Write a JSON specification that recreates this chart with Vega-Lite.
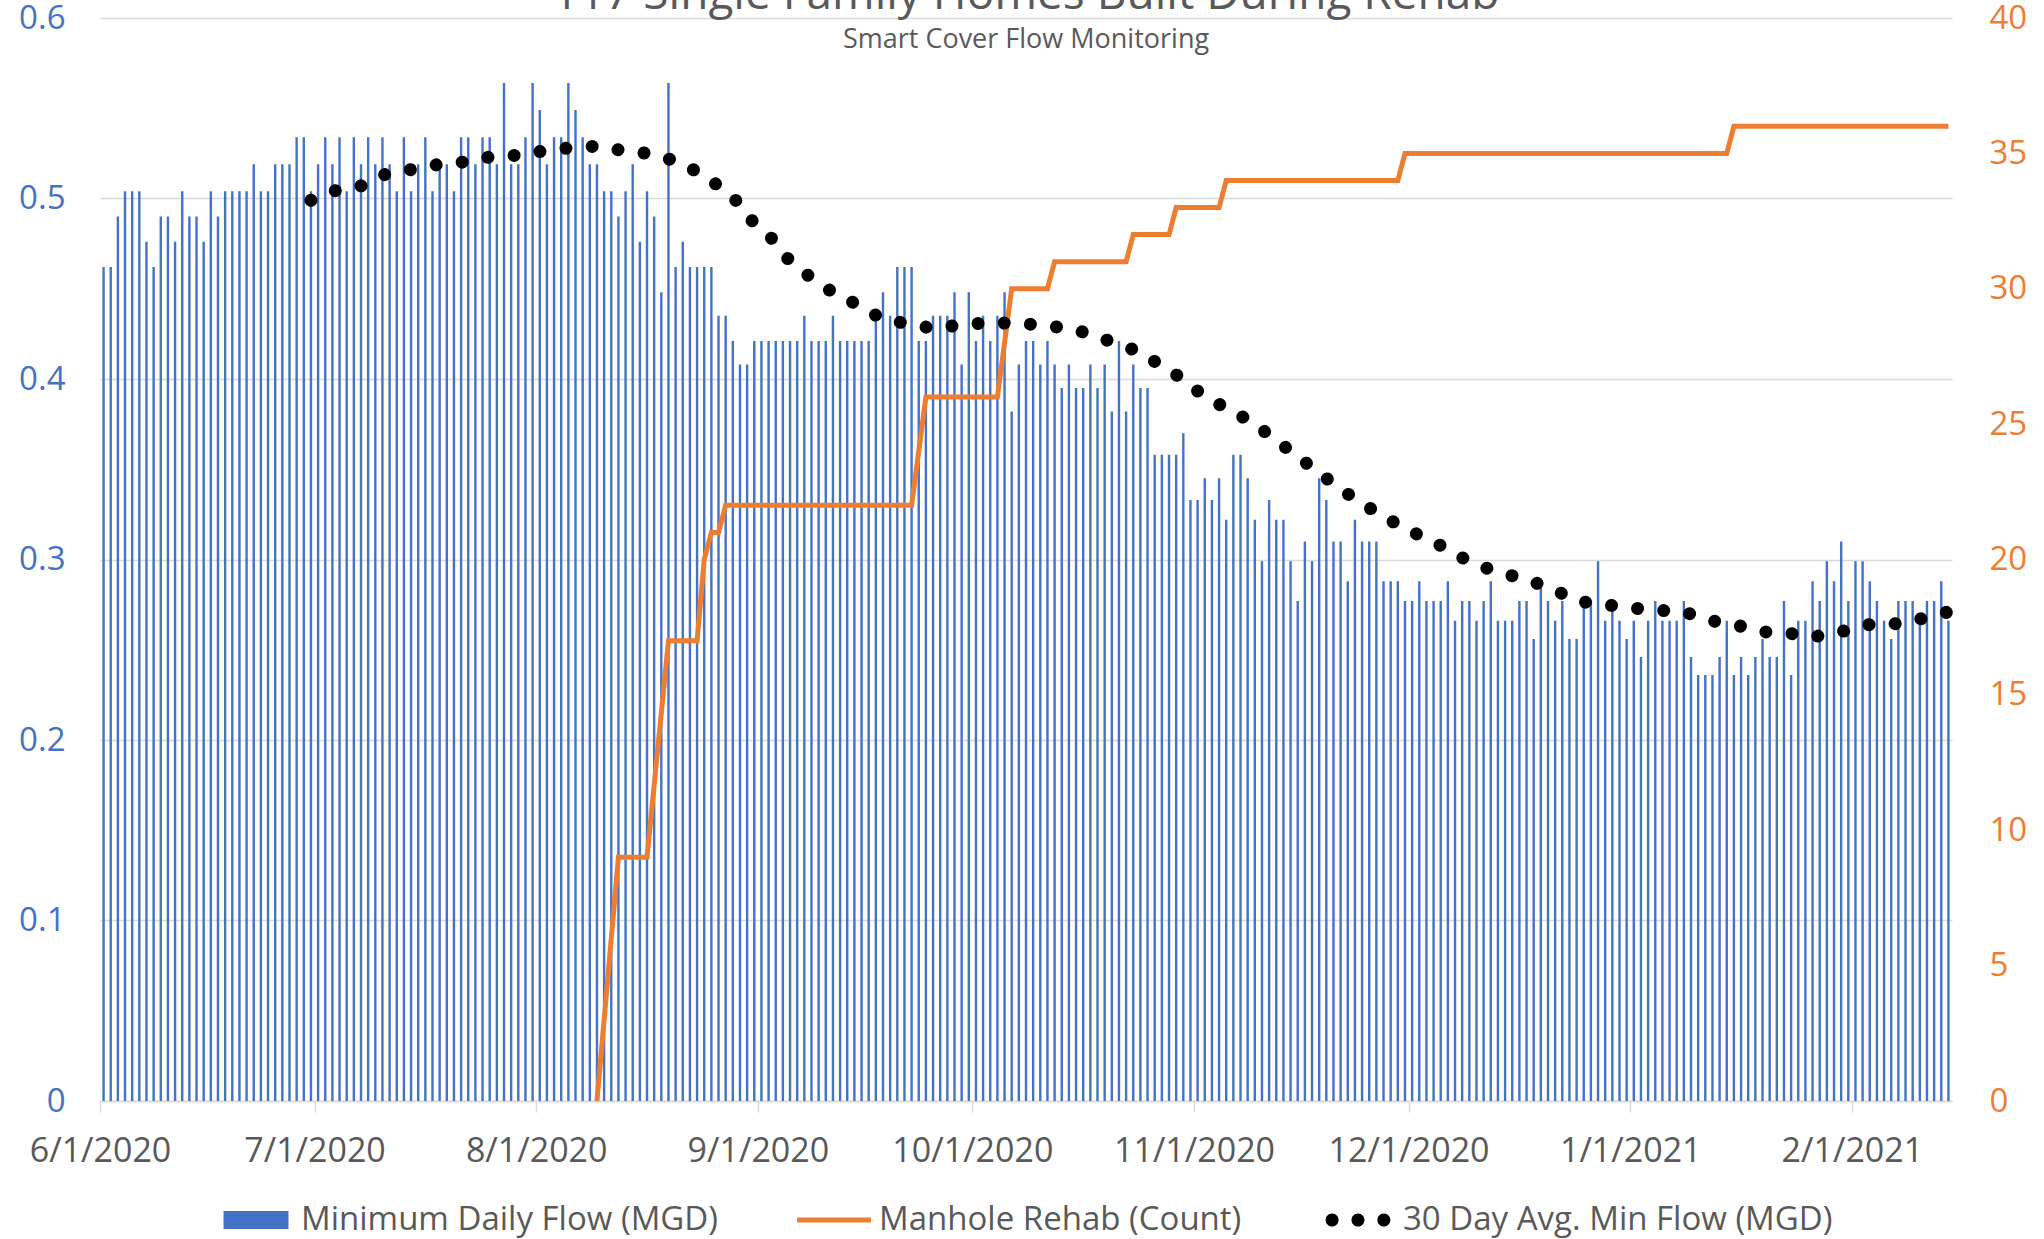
{
  "$schema": "https://vega.github.io/schema/vega-lite/v6.json",
  "autosize": {"type": "none"},
  "width": 1852,
  "height": 1083,
  "padding": {"left": 100, "top": 18, "right": 92, "bottom": 138},
  "background": "white",
  "title": {
    "text": "117 Single Family Homes Built During Rehab",
    "subtitle": "Smart Cover Flow Monitoring",
    "anchor": "middle",
    "offset": -52,
    "font": "Open Sans",
    "fontSize": 46,
    "fontWeight": "normal",
    "color": "#595959",
    "subtitleFont": "Open Sans",
    "subtitleFontSize": 27,
    "subtitleColor": "#595959",
    "subtitlePadding": 8
  },
  "config": {
    "view": {"stroke": null},
    "axis": {"labelFont": "Open Sans", "titleFont": "Open Sans"},
    "legend": {"labelFont": "Open Sans", "layout": {"anchor": "middle", "bottom": {"anchor": "middle"}}}
  },
  "datasets": {
    "flow": [
      {"date":"2020-06-01","flow":0.462},{"date":"2020-06-02","flow":0.462},{"date":"2020-06-03","flow":0.490},{"date":"2020-06-04","flow":0.504},{"date":"2020-06-05","flow":0.504},{"date":"2020-06-06","flow":0.504},{"date":"2020-06-07","flow":0.476},{"date":"2020-06-08","flow":0.462},{"date":"2020-06-09","flow":0.490},{"date":"2020-06-10","flow":0.490},
      {"date":"2020-06-11","flow":0.476},{"date":"2020-06-12","flow":0.504},{"date":"2020-06-13","flow":0.490},{"date":"2020-06-14","flow":0.490},{"date":"2020-06-15","flow":0.476},{"date":"2020-06-16","flow":0.504},{"date":"2020-06-17","flow":0.490},{"date":"2020-06-18","flow":0.504},{"date":"2020-06-19","flow":0.504},{"date":"2020-06-20","flow":0.504},
      {"date":"2020-06-21","flow":0.504},{"date":"2020-06-22","flow":0.519},{"date":"2020-06-23","flow":0.504},{"date":"2020-06-24","flow":0.504},{"date":"2020-06-25","flow":0.519},{"date":"2020-06-26","flow":0.519},{"date":"2020-06-27","flow":0.519},{"date":"2020-06-28","flow":0.534},{"date":"2020-06-29","flow":0.534},{"date":"2020-06-30","flow":0.504},
      {"date":"2020-07-01","flow":0.519},{"date":"2020-07-02","flow":0.534},{"date":"2020-07-03","flow":0.519},{"date":"2020-07-04","flow":0.534},{"date":"2020-07-05","flow":0.504},{"date":"2020-07-06","flow":0.534},{"date":"2020-07-07","flow":0.519},{"date":"2020-07-08","flow":0.534},{"date":"2020-07-09","flow":0.519},{"date":"2020-07-10","flow":0.534},
      {"date":"2020-07-11","flow":0.519},{"date":"2020-07-12","flow":0.504},{"date":"2020-07-13","flow":0.534},{"date":"2020-07-14","flow":0.504},{"date":"2020-07-15","flow":0.519},{"date":"2020-07-16","flow":0.534},{"date":"2020-07-17","flow":0.504},{"date":"2020-07-18","flow":0.519},{"date":"2020-07-19","flow":0.519},{"date":"2020-07-20","flow":0.504},
      {"date":"2020-07-21","flow":0.534},{"date":"2020-07-22","flow":0.534},{"date":"2020-07-23","flow":0.519},{"date":"2020-07-24","flow":0.534},{"date":"2020-07-25","flow":0.534},{"date":"2020-07-26","flow":0.519},{"date":"2020-07-27","flow":0.564},{"date":"2020-07-28","flow":0.519},{"date":"2020-07-29","flow":0.519},{"date":"2020-07-30","flow":0.534},
      {"date":"2020-07-31","flow":0.564},{"date":"2020-08-01","flow":0.549},{"date":"2020-08-02","flow":0.519},{"date":"2020-08-03","flow":0.534},{"date":"2020-08-04","flow":0.534},{"date":"2020-08-05","flow":0.564},{"date":"2020-08-06","flow":0.549},{"date":"2020-08-07","flow":0.534},{"date":"2020-08-08","flow":0.519},{"date":"2020-08-09","flow":0.519},
      {"date":"2020-08-10","flow":0.504},{"date":"2020-08-11","flow":0.504},{"date":"2020-08-12","flow":0.490},{"date":"2020-08-13","flow":0.504},{"date":"2020-08-14","flow":0.519},{"date":"2020-08-15","flow":0.476},{"date":"2020-08-16","flow":0.504},{"date":"2020-08-17","flow":0.490},{"date":"2020-08-18","flow":0.448},{"date":"2020-08-19","flow":0.564},
      {"date":"2020-08-20","flow":0.462},{"date":"2020-08-21","flow":0.476},{"date":"2020-08-22","flow":0.462},{"date":"2020-08-23","flow":0.462},{"date":"2020-08-24","flow":0.462},{"date":"2020-08-25","flow":0.462},{"date":"2020-08-26","flow":0.435},{"date":"2020-08-27","flow":0.435},{"date":"2020-08-28","flow":0.421},{"date":"2020-08-29","flow":0.408},
      {"date":"2020-08-30","flow":0.408},{"date":"2020-08-31","flow":0.421},{"date":"2020-09-01","flow":0.421},{"date":"2020-09-02","flow":0.421},{"date":"2020-09-03","flow":0.421},{"date":"2020-09-04","flow":0.421},{"date":"2020-09-05","flow":0.421},{"date":"2020-09-06","flow":0.421},{"date":"2020-09-07","flow":0.435},{"date":"2020-09-08","flow":0.421},
      {"date":"2020-09-09","flow":0.421},{"date":"2020-09-10","flow":0.421},{"date":"2020-09-11","flow":0.435},{"date":"2020-09-12","flow":0.421},{"date":"2020-09-13","flow":0.421},{"date":"2020-09-14","flow":0.421},{"date":"2020-09-15","flow":0.421},{"date":"2020-09-16","flow":0.421},{"date":"2020-09-17","flow":0.435},{"date":"2020-09-18","flow":0.448},
      {"date":"2020-09-19","flow":0.435},{"date":"2020-09-20","flow":0.462},{"date":"2020-09-21","flow":0.462},{"date":"2020-09-22","flow":0.462},{"date":"2020-09-23","flow":0.421},{"date":"2020-09-24","flow":0.421},{"date":"2020-09-25","flow":0.435},{"date":"2020-09-26","flow":0.435},{"date":"2020-09-27","flow":0.435},{"date":"2020-09-28","flow":0.448},
      {"date":"2020-09-29","flow":0.408},{"date":"2020-09-30","flow":0.448},{"date":"2020-10-01","flow":0.421},{"date":"2020-10-02","flow":0.435},{"date":"2020-10-03","flow":0.421},{"date":"2020-10-04","flow":0.435},{"date":"2020-10-05","flow":0.448},{"date":"2020-10-06","flow":0.382},{"date":"2020-10-07","flow":0.408},{"date":"2020-10-08","flow":0.421},
      {"date":"2020-10-09","flow":0.421},{"date":"2020-10-10","flow":0.408},{"date":"2020-10-11","flow":0.421},{"date":"2020-10-12","flow":0.408},{"date":"2020-10-13","flow":0.395},{"date":"2020-10-14","flow":0.408},{"date":"2020-10-15","flow":0.395},{"date":"2020-10-16","flow":0.395},{"date":"2020-10-17","flow":0.408},{"date":"2020-10-18","flow":0.395},
      {"date":"2020-10-19","flow":0.408},{"date":"2020-10-20","flow":0.382},{"date":"2020-10-21","flow":0.421},{"date":"2020-10-22","flow":0.382},{"date":"2020-10-23","flow":0.408},{"date":"2020-10-24","flow":0.395},{"date":"2020-10-25","flow":0.395},{"date":"2020-10-26","flow":0.358},{"date":"2020-10-27","flow":0.358},{"date":"2020-10-28","flow":0.358},
      {"date":"2020-10-29","flow":0.358},{"date":"2020-10-30","flow":0.370},{"date":"2020-10-31","flow":0.333},{"date":"2020-11-01","flow":0.333},{"date":"2020-11-02","flow":0.345},{"date":"2020-11-03","flow":0.333},{"date":"2020-11-04","flow":0.345},{"date":"2020-11-05","flow":0.322},{"date":"2020-11-06","flow":0.358},{"date":"2020-11-07","flow":0.358},
      {"date":"2020-11-08","flow":0.345},{"date":"2020-11-09","flow":0.322},{"date":"2020-11-10","flow":0.299},{"date":"2020-11-11","flow":0.333},{"date":"2020-11-12","flow":0.322},{"date":"2020-11-13","flow":0.322},{"date":"2020-11-14","flow":0.299},{"date":"2020-11-15","flow":0.277},{"date":"2020-11-16","flow":0.310},{"date":"2020-11-17","flow":0.299},
      {"date":"2020-11-18","flow":0.345},{"date":"2020-11-19","flow":0.333},{"date":"2020-11-20","flow":0.310},{"date":"2020-11-21","flow":0.310},{"date":"2020-11-22","flow":0.288},{"date":"2020-11-23","flow":0.322},{"date":"2020-11-24","flow":0.310},{"date":"2020-11-25","flow":0.310},{"date":"2020-11-26","flow":0.310},{"date":"2020-11-27","flow":0.288},
      {"date":"2020-11-28","flow":0.288},{"date":"2020-11-29","flow":0.288},{"date":"2020-11-30","flow":0.277},{"date":"2020-12-01","flow":0.277},{"date":"2020-12-02","flow":0.288},{"date":"2020-12-03","flow":0.277},{"date":"2020-12-04","flow":0.277},{"date":"2020-12-05","flow":0.277},{"date":"2020-12-06","flow":0.288},{"date":"2020-12-07","flow":0.266},
      {"date":"2020-12-08","flow":0.277},{"date":"2020-12-09","flow":0.277},{"date":"2020-12-10","flow":0.266},{"date":"2020-12-11","flow":0.277},{"date":"2020-12-12","flow":0.288},{"date":"2020-12-13","flow":0.266},{"date":"2020-12-14","flow":0.266},{"date":"2020-12-15","flow":0.266},{"date":"2020-12-16","flow":0.277},{"date":"2020-12-17","flow":0.277},
      {"date":"2020-12-18","flow":0.256},{"date":"2020-12-19","flow":0.288},{"date":"2020-12-20","flow":0.277},{"date":"2020-12-21","flow":0.266},{"date":"2020-12-22","flow":0.277},{"date":"2020-12-23","flow":0.256},{"date":"2020-12-24","flow":0.256},{"date":"2020-12-25","flow":0.277},{"date":"2020-12-26","flow":0.277},{"date":"2020-12-27","flow":0.299},
      {"date":"2020-12-28","flow":0.266},{"date":"2020-12-29","flow":0.277},{"date":"2020-12-30","flow":0.266},{"date":"2020-12-31","flow":0.256},{"date":"2021-01-01","flow":0.266},{"date":"2021-01-02","flow":0.246},{"date":"2021-01-03","flow":0.266},{"date":"2021-01-04","flow":0.277},{"date":"2021-01-05","flow":0.266},{"date":"2021-01-06","flow":0.266},
      {"date":"2021-01-07","flow":0.266},{"date":"2021-01-08","flow":0.277},{"date":"2021-01-09","flow":0.246},{"date":"2021-01-10","flow":0.236},{"date":"2021-01-11","flow":0.236},{"date":"2021-01-12","flow":0.236},{"date":"2021-01-13","flow":0.246},{"date":"2021-01-14","flow":0.266},{"date":"2021-01-15","flow":0.236},{"date":"2021-01-16","flow":0.246},
      {"date":"2021-01-17","flow":0.236},{"date":"2021-01-18","flow":0.246},{"date":"2021-01-19","flow":0.256},{"date":"2021-01-20","flow":0.246},{"date":"2021-01-21","flow":0.246},{"date":"2021-01-22","flow":0.277},{"date":"2021-01-23","flow":0.236},{"date":"2021-01-24","flow":0.266},{"date":"2021-01-25","flow":0.266},{"date":"2021-01-26","flow":0.288},
      {"date":"2021-01-27","flow":0.277},{"date":"2021-01-28","flow":0.299},{"date":"2021-01-29","flow":0.288},{"date":"2021-01-30","flow":0.310},{"date":"2021-01-31","flow":0.277},{"date":"2021-02-01","flow":0.299},{"date":"2021-02-02","flow":0.299},{"date":"2021-02-03","flow":0.288},{"date":"2021-02-04","flow":0.277},{"date":"2021-02-05","flow":0.266},
      {"date":"2021-02-06","flow":0.256},{"date":"2021-02-07","flow":0.277},{"date":"2021-02-08","flow":0.277},{"date":"2021-02-09","flow":0.277},{"date":"2021-02-10","flow":0.266},{"date":"2021-02-11","flow":0.277},{"date":"2021-02-12","flow":0.277},{"date":"2021-02-13","flow":0.288},{"date":"2021-02-14","flow":0.266}
    ],
    "rehab": [
      {"date":"2020-08-09","count":0},{"date":"2020-08-12","count":9},{"date":"2020-08-16","count":9},{"date":"2020-08-19","count":17},{"date":"2020-08-23","count":17},{"date":"2020-08-24","count":20},{"date":"2020-08-25","count":21},{"date":"2020-08-26","count":21},{"date":"2020-08-27","count":22},{"date":"2020-09-22","count":22},
      {"date":"2020-09-24","count":26},{"date":"2020-10-04","count":26},{"date":"2020-10-06","count":30},{"date":"2020-10-11","count":30},{"date":"2020-10-12","count":31},{"date":"2020-10-22","count":31},{"date":"2020-10-23","count":32},{"date":"2020-10-28","count":32},{"date":"2020-10-29","count":33},{"date":"2020-11-04","count":33},
      {"date":"2020-11-05","count":34},{"date":"2020-11-29","count":34},{"date":"2020-11-30","count":35},{"date":"2021-01-14","count":35},{"date":"2021-01-15","count":36},{"date":"2021-02-14","count":36}
    ],
    "avg": [
      {"date":"2020-06-30","avg":0.499},{"date":"2020-07-03","avg":0.504},{"date":"2020-07-07","avg":0.507},{"date":"2020-07-10","avg":0.513},{"date":"2020-07-14","avg":0.516},{"date":"2020-07-18","avg":0.519},{"date":"2020-07-21","avg":0.520},{"date":"2020-07-25","avg":0.523},{"date":"2020-07-29","avg":0.524},{"date":"2020-08-01","avg":0.526},
      {"date":"2020-08-05","avg":0.528},{"date":"2020-08-09","avg":0.529},{"date":"2020-08-12","avg":0.527},{"date":"2020-08-16","avg":0.525},{"date":"2020-08-19","avg":0.522},{"date":"2020-08-23","avg":0.515},{"date":"2020-08-26","avg":0.507},{"date":"2020-08-29","avg":0.497},{"date":"2020-08-31","avg":0.486},{"date":"2020-09-03","avg":0.476},
      {"date":"2020-09-05","avg":0.465},{"date":"2020-09-08","avg":0.456},{"date":"2020-09-11","avg":0.448},{"date":"2020-09-15","avg":0.440},{"date":"2020-09-18","avg":0.433},{"date":"2020-09-21","avg":0.431},{"date":"2020-09-25","avg":0.428},{"date":"2020-09-29","avg":0.430},{"date":"2020-10-02","avg":0.431},{"date":"2020-10-06","avg":0.431},
      {"date":"2020-10-10","avg":0.430},{"date":"2020-10-14","avg":0.428},{"date":"2020-10-17","avg":0.425},{"date":"2020-10-21","avg":0.419},{"date":"2020-10-24","avg":0.415},{"date":"2020-10-27","avg":0.407},{"date":"2020-10-30","avg":0.400},{"date":"2020-11-02","avg":0.390},{"date":"2020-11-06","avg":0.382},{"date":"2020-11-09","avg":0.375},
      {"date":"2020-11-12","avg":0.366},{"date":"2020-11-15","avg":0.357},{"date":"2020-11-18","avg":0.348},{"date":"2020-11-21","avg":0.339},{"date":"2020-11-24","avg":0.331},{"date":"2020-11-27","avg":0.324},{"date":"2020-11-30","avg":0.317},{"date":"2020-12-04","avg":0.310},{"date":"2020-12-07","avg":0.303},{"date":"2020-12-10","avg":0.297},
      {"date":"2020-12-14","avg":0.292},{"date":"2020-12-17","avg":0.289},{"date":"2020-12-21","avg":0.283},{"date":"2020-12-24","avg":0.277},{"date":"2020-12-28","avg":0.275},{"date":"2021-01-01","avg":0.273},{"date":"2021-01-04","avg":0.272},{"date":"2021-01-08","avg":0.271},{"date":"2021-01-12","avg":0.266},{"date":"2021-01-15","avg":0.264},
      {"date":"2021-01-19","avg":0.260},{"date":"2021-01-23","avg":0.259},{"date":"2021-01-26","avg":0.257},{"date":"2021-01-30","avg":0.260},{"date":"2021-02-03","avg":0.264},{"date":"2021-02-06","avg":0.264},{"date":"2021-02-10","avg":0.267},{"date":"2021-02-14","avg":0.271}
    ]
  },
  "layer": [
    {
      "data": {"name": "flow"},
      "mark": {"type": "bar", "width": 2.4},
      "encoding": {
        "x": {
          "field": "date", "type": "temporal", "timeUnit": "utcyearmonthdate", "bandPosition": 0.5,
          "scale": {"type": "utc", "domain": [{"year": 2020, "month": 6, "date": 1, "utc": true}, {"year": 2021, "month": 2, "date": 15, "utc": true}]},
          "axis": {
            "title": null,
            "values": [
              {"year": 2020, "month": 6, "date": 1, "utc": true}, {"year": 2020, "month": 7, "date": 1, "utc": true}, {"year": 2020, "month": 8, "date": 1, "utc": true},
              {"year": 2020, "month": 9, "date": 1, "utc": true}, {"year": 2020, "month": 10, "date": 1, "utc": true}, {"year": 2020, "month": 11, "date": 1, "utc": true},
              {"year": 2020, "month": 12, "date": 1, "utc": true}, {"year": 2021, "month": 1, "date": 1, "utc": true}, {"year": 2021, "month": 2, "date": 1, "utc": true}
            ],
            "format": "%-m/%-d/%Y",
            "labelFontSize": 34,
            "labelColor": "#595959",
            "labelPadding": 22,
            "labelFlush": false,
            "labelOverlap": false,
            "domainColor": "#D9D9D9",
            "domainWidth": 1.5,
            "tickColor": "#D9D9D9",
            "tickWidth": 1.5,
            "tickSize": 11,
            "grid": false
          }
        },
        "y": {
          "field": "flow", "type": "quantitative",
          "scale": {"domain": [0, 0.6], "nice": false},
          "axis": {
            "title": null,
            "values": [0, 0.1, 0.2, 0.3, 0.4, 0.5, 0.6],
            "format": ".1~f",
            "labelFontSize": 33,
            "labelColor": "#4472C4",
            "labelPadding": 35,
            "ticks": false,
            "domain": false,
            "grid": true,
            "gridColor": "#D9D9D9",
            "gridWidth": 1.3
          }
        },
        "color": {
          "datum": "Minimum Daily Flow (MGD)",
          "type": "nominal",
          "scale": {
            "domain": ["Minimum Daily Flow (MGD)", "Manhole Rehab (Count)", "30 Day Avg. Min Flow (MGD)"],
            "range": ["#4472C4", "#ED7D31", "#000000"]
          },
          "legend": {
            "title": null,
            "orient": "bottom",
            "direction": "horizontal",
            "labelFontSize": 33,
            "labelColor": "#595959",
            "labelLimit": 1000,
            "symbolSize": 5476,
            "symbolStrokeWidth": 0,
            "labelOffset": 8,
            "columnPadding": 79,
            "offset": 15,
            "encode": {
              "symbols": {
                "update": {
                  "shape": {"signal": "datum.value === 'Minimum Daily Flow (MGD)' ? 'M-0.878,-0.243H0.878V0.243H-0.878Z' : datum.value === 'Manhole Rehab (Count)' ? 'M-1,-0.07H1V0.07H-1Z' : 'M-0.524,0A0.176,0.176,0,1,1,-0.876,0A0.176,0.176,0,1,1,-0.524,0ZM0.176,0A0.176,0.176,0,1,1,-0.176,0A0.176,0.176,0,1,1,0.176,0ZM0.876,0A0.176,0.176,0,1,1,0.524,0A0.176,0.176,0,1,1,0.876,0Z'"},
                  "fill": {"signal": "scale('color', datum.value)"},
                  "stroke": {"value": "transparent"},
                  "strokeWidth": {"value": 0},
                  "size": {"value": 5476},
                  "opacity": {"value": 1}
                }
              }
            }
          }
        }
      }
    },
    {
      "data": {"name": "rehab"},
      "mark": {"type": "line", "strokeWidth": 5, "strokeJoin": "miter"},
      "encoding": {
        "x": {"field": "date", "type": "temporal", "timeUnit": "utcyearmonthdate", "bandPosition": 0.5},
        "y": {
          "field": "count", "type": "quantitative",
          "scale": {"domain": [0, 40], "nice": false},
          "axis": {
            "title": null,
            "orient": "right",
            "values": [0, 5, 10, 15, 20, 25, 30, 35, 40],
            "labelFontSize": 33,
            "labelColor": "#ED7D31",
            "labelPadding": 37,
            "ticks": false,
            "domain": false,
            "grid": false
          }
        },
        "color": {"datum": "Manhole Rehab (Count)", "type": "nominal"}
      }
    },
    {
      "data": {"name": "avg"},
      "mark": {"type": "line", "strokeWidth": 13, "strokeCap": "round", "strokeDash": [0.01, 26.2]},
      "encoding": {
        "x": {"field": "date", "type": "temporal", "timeUnit": "utcyearmonthdate", "bandPosition": 0.5},
        "y": {
          "field": "avg", "type": "quantitative",
          "scale": {"domain": [0, 0.6], "nice": false},
          "axis": null
        },
        "color": {"datum": "30 Day Avg. Min Flow (MGD)", "type": "nominal"}
      }
    }
  ],
  "resolve": {"scale": {"y": "independent"}}
}
